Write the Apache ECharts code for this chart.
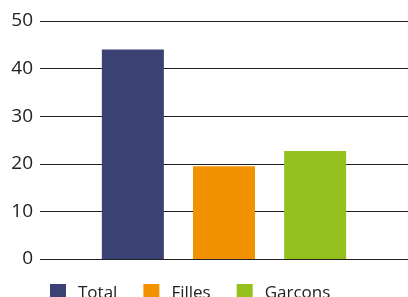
<!DOCTYPE html>
<html>
<head>
<meta charset="utf-8">
<script src="https://cdn.jsdelivr.net/npm/echarts@6/dist/echarts.min.js"></script>
<style>
  html, body { margin: 0; padding: 0; background: #fff; }
  #chart { width: 408px; height: 297px; }
</style>
</head>
<body>
<div id="chart"></div>
<script>
var seriesNames = ["Total", "Filles", "Garcons"];
var seriesValues = [44, 19.5, 22.7];
var seriesColors = ["#3b4172", "#f29200", "#95c11f"];
var categories = [""];
var yTicks = { min: 0, max: 50, interval: 10 };

var chart = echarts.init(document.getElementById("chart"));

var series = seriesNames.map(function (name, i) {
  return {
    name: name,
    type: "bar",
    data: [seriesValues[i]],
    barWidth: 62,
    barGap: "47%",
    itemStyle: { color: seriesColors[i] }
  };
});

chart.setOption({
  animation: false,
  textStyle: { fontFamily: "Open Sans" },
  grid: { left: 40, right: -6, top: 21, bottom: 38 },
  legend: {
    left: 50,
    top: 284,
    padding: 0,
    icon: "rect",
    itemWidth: 16,
    itemHeight: 18,
    itemGap: 26,
    textStyle: { fontSize: 17, color: "#222", padding: [3, 0, 0, 7] },
    data: seriesNames
  },
  xAxis: {
    type: "category",
    data: categories,
    axisLine: { show: false },
    axisTick: { show: false },
    axisLabel: { show: false }
  },
  yAxis: {
    type: "value",
    min: yTicks.min,
    max: yTicks.max,
    interval: yTicks.interval,
    axisLine: { show: false },
    axisTick: { show: false },
    axisLabel: { fontSize: 19, color: "#222", margin: 7 },
    splitLine: { lineStyle: { color: "#222", width: 1 } }
  },
  series: series
});
</script>
</body>
</html>
